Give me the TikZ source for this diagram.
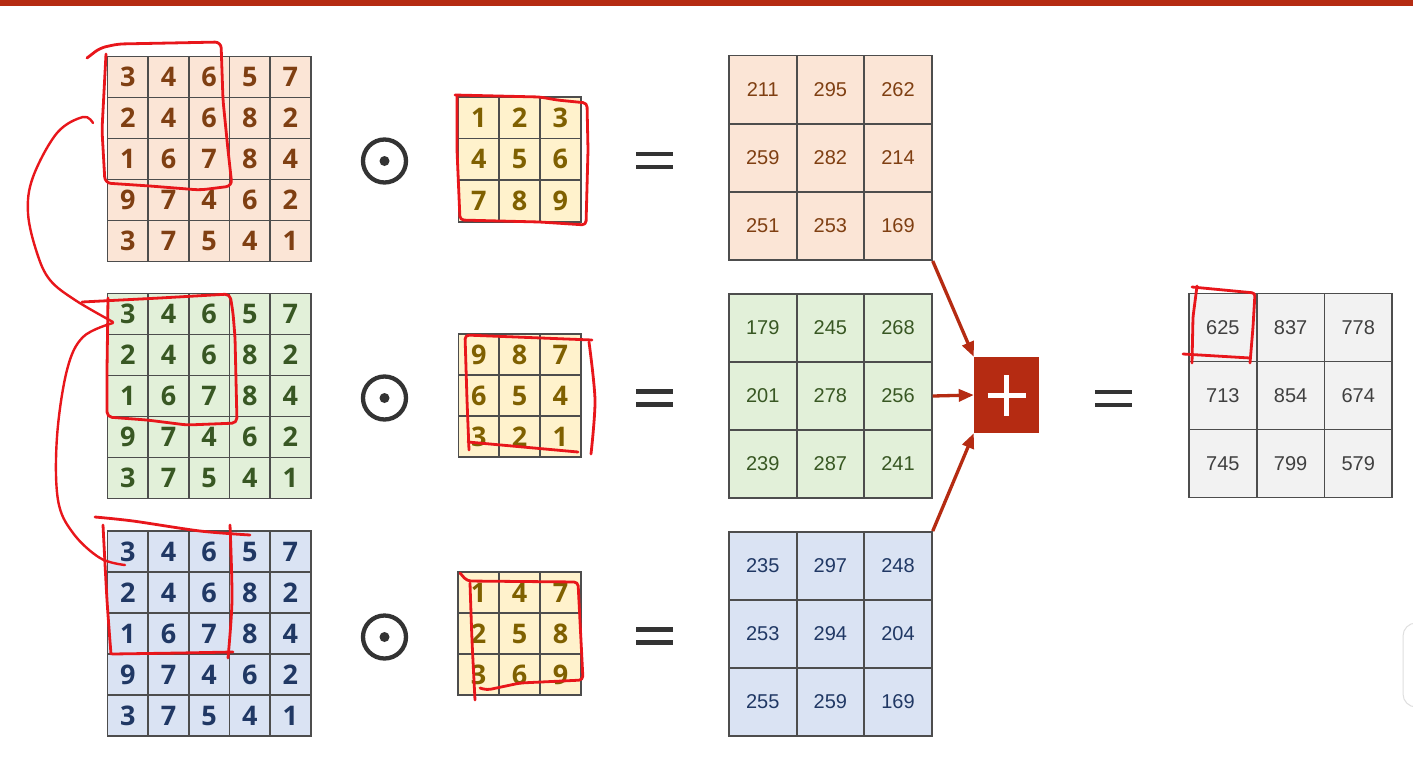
\documentclass[tikz,border=0pt]{standalone}
\usepackage{fontspec}
\newfontfamily\digitfont{Open Sans}
\newfontfamily\numfont{Liberation Sans}
\usetikzlibrary{arrows.meta, positioning}

\definecolor{barred}{HTML}{B52B12}
\definecolor{inkred}{HTML}{E8161B}
\definecolor{gridgray}{HTML}{4D4D4D}
\definecolor{opgray}{HTML}{333333}
\definecolor{peachfill}{HTML}{FBE5D6}
\definecolor{peachtext}{HTML}{7F3F12}
\definecolor{greenfill}{HTML}{E2F0D9}
\definecolor{greentext}{HTML}{385723}
\definecolor{bluefill}{HTML}{DAE3F3}
\definecolor{bluetext}{HTML}{203864}
\definecolor{kernfill}{HTML}{FFF2CC}
\definecolor{kerntext}{HTML}{7F6000}
\definecolor{sumfill}{HTML}{F2F2F2}
\definecolor{sumtext}{HTML}{404040}

% grid of cell nodes: name, left, top, cell width, cell height, style, rows
\newcommand\gridof[7]{%
  \foreach \row [count=\i] in {#7} {
    \foreach \v [count=\j] in \row {
      \node[#6, minimum width=#4, minimum height=#5] (#1-\i-\j)
        at ({#2+(\j-0.5)*#4}, {#3+(\i-0.5)*#5}) {\v};
    }
  }%
}

\tikzset{
  odotsign/.pic={\draw[opgray, line width=4.3pt] (0,0) circle (21.5pt);
                 \fill[opgray] (0,0) circle (5pt);},
  eqsign/.pic={\draw[opgray, line width=4.3pt] (-18.5,-6.5) -- (18.5,-6.5)
                                               (-18.5,6.5) -- (18.5,6.5);}
}

\begin{document}
\begin{tikzpicture}[
    x=1pt, y=-1pt,
    incell/.style={draw=gridgray, line width=1.6pt, inner sep=0pt,
                   font=\digitfont\bfseries\fontsize{27}{27}\selectfont},
    outcell/.style={draw=gridgray, line width=1.8pt, inner sep=0pt,
                    font=\numfont\fontsize{20}{20}\selectfont},
    sumarrow/.style={-{Triangle[length=15pt, width=12pt]}, line width=3.3pt, draw=barred},
    plusbox/.style={fill=barred, minimum width=65, minimum height=76, inner sep=0pt},
    handmark/.style={draw=inkred, line width=2.8pt, line cap=round, line join=round}
]
\useasboundingbox (0,0) rectangle (1413,764);
\fill[white] (0,0) rectangle (1413,764);
\fill[barred] (0,0) rectangle (1413,5.5);
\draw[gray!25, line width=1pt, rounded corners=13pt, fill=white] (1403,623) rectangle (1440,707);

% Input channels
\gridof{inA}{107.5}{56.5}{40.65}{41}{incell, fill=peachfill, text=peachtext}
  {{3,4,6,5,7},{2,4,6,8,2},{1,6,7,8,4},{9,7,4,6,2},{3,7,5,4,1}}
\gridof{inB}{107.5}{293.5}{40.65}{41}{incell, fill=greenfill, text=greentext}
  {{3,4,6,5,7},{2,4,6,8,2},{1,6,7,8,4},{9,7,4,6,2},{3,7,5,4,1}}
\gridof{inC}{107.5}{531}{40.65}{41}{incell, fill=bluefill, text=bluetext}
  {{3,4,6,5,7},{2,4,6,8,2},{1,6,7,8,4},{9,7,4,6,2},{3,7,5,4,1}}

% Operators
\pic at (384.5,161) {odotsign};
\pic at (384.5,398) {odotsign};
\pic at (384.5,637) {odotsign};
\pic at (654.5,160.5) {eqsign};
\pic at (654.5,398) {eqsign};
\pic at (654.5,636) {eqsign};
\pic at (1113.5,398.5) {eqsign};

% Kernels
\gridof{kA}{458.3}{96.7}{40.8}{41.7}{incell, fill=kernfill, text=kerntext}
  {{1,2,3},{4,5,6},{7,8,9}}
\gridof{kB}{458.3}{334}{40.8}{41}{incell, fill=kernfill, text=kerntext}
  {{9,8,7},{6,5,4},{3,2,1}}
\gridof{kC}{458}{572}{41}{41}{incell, fill=kernfill, text=kerntext}
  {{1,4,7},{2,5,8},{3,6,9}}

% Channel results
\gridof{outA}{729}{55.5}{67.6}{68.2}{outcell, fill=peachfill, text=peachtext}
  {{211,295,262},{259,282,214},{251,253,169}}
\gridof{outB}{729}{294}{67.6}{68}{outcell, fill=greenfill, text=greentext}
  {{179,245,268},{201,278,256},{239,287,241}}
\gridof{outC}{729}{532}{67.6}{68}{outcell, fill=bluefill, text=bluetext}
  {{235,297,248},{253,294,204},{255,259,169}}

% Sum
\node[plusbox] (plus) at (1006.5,395) {};
\draw[white, line width=5pt] ([yshift=-20.5pt]plus.center) -- ([yshift=20.5pt]plus.center);
\draw[white, line width=5pt] ([xshift=-19pt]plus.center) -- ([xshift=19pt]plus.center);

\gridof{res}{1189}{293.5}{67.7}{68}{outcell, fill=sumfill, text=sumtext}
  {{625,837,778},{713,854,674},{745,799,579}}

% Arrows
\draw[sumarrow] (outA-3-3.south east) -- (plus.north west);
\draw[sumarrow] (outB-2-3.east) -- (plus.west);
\draw[sumarrow] (outC-1-3.north east) -- (plus.south west);

% Hand-drawn marks
\draw[handmark, rounded corners=6pt] (87,58) -- (100,48) -- (118,44) -- (170,43) -- (221,42)
  -- (223,100) -- (228,150) -- (232,186) -- (200,190) -- (150,186) -- (105,183)
  -- (102,130) -- (106,54);
\draw[handmark, line width=2.4pt] plot[smooth, tension=0.6] coordinates
  {(93,123) (83,117) (57,133) (33,177) (28,213) (37,253) (50,280) (75,300) (113,322)};
\draw[handmark, rounded corners=5pt] (82,302) -- (160,298) -- (230,294) -- (233,313)
  -- (235,337) -- (237,423) -- (187,425) -- (147,420) -- (107,417) -- (107,370) -- (108,298);
\draw[handmark, line width=2.4pt] plot[smooth, tension=0.6] coordinates
  {(113,323) (83,337) (67,370) (57,437) (58,500) (73,533) (100,558) (125,565)};
\draw[handmark] plot[smooth, tension=0.5] coordinates {(95,517) (133,521) (200,531) (250,535)};
\draw[handmark] plot[smooth, tension=0.5] coordinates {(230,525) (232,600) (228,658)};
\draw[handmark] (112,654) -- (180,653) -- (233,652);
\draw[handmark] plot[smooth, tension=0.5] coordinates {(103,525) (107,600) (111,654)};

\draw[handmark, rounded corners=4pt] (455,95) -- (540,97) -- (557,100) -- (587,103)
  -- (588,150) -- (586,225) -- (540,222) -- (460,220) -- (457,150) -- (457,97);
\draw[handmark, rounded corners=4pt] (469,450) -- (467,400) -- (465,335) -- (592,340);
\draw[handmark] (468,442) -- (578,452);
\draw[handmark] plot[smooth, tension=0.5] coordinates {(589,342) (595,400) (591,454)};
\draw[handmark, rounded corners=4pt] (460,573) -- (467,581) -- (578,582) -- (583,680)
  -- (520,683) -- (487,690) -- (480,688);
\draw[handmark] plot[smooth, tension=0.5] coordinates {(470,583) (472,640) (475,700)};

\draw[handmark, rounded corners=3pt] (1197,286) -- (1193,317) -- (1192,363);
\draw[handmark, rounded corners=3pt] (1192,287) -- (1255,293) -- (1253,327) -- (1250,363);
\draw[handmark] (1183,354) -- (1250,358);

\end{tikzpicture}
\end{document}
